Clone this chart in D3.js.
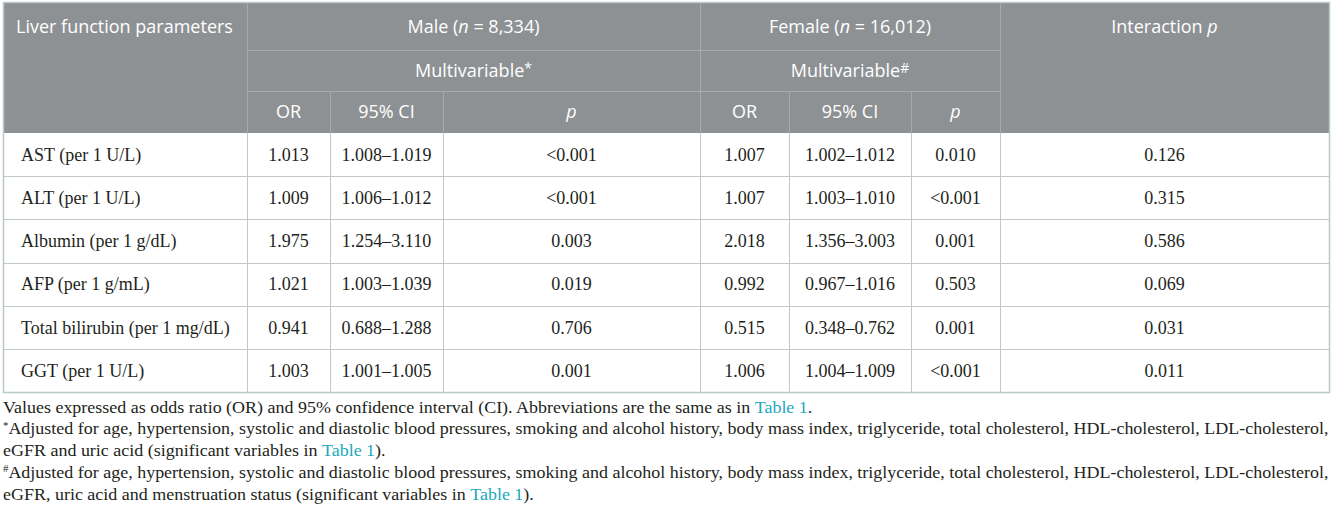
<!DOCTYPE html>
<html>
<head>
<meta charset="utf-8">
<script src="https://cdn.jsdelivr.net/npm/d3@7"></script>
<style>
  body { margin: 0; background: #fff; }
  svg { display: block; }
</style>
</head>
<body>
<svg id="table" width="1333" height="521"></svg>
<script>
// table contents
const params = ["AST (per 1 U/L)", "ALT (per 1 U/L)", "Albumin (per 1 g/dL)", "AFP (per 1 g/mL)", "Total bilirubin (per 1 mg/dL)", "GGT (per 1 U/L)"];
const maleOR = ["1.013", "1.009", "1.975", "1.021", "0.941", "1.003"];
const maleCI = ["1.008–1.019", "1.006–1.012", "1.254–3.110", "1.003–1.039", "0.688–1.288", "1.001–1.005"];
const maleP = ["<0.001", "<0.001", "0.003", "0.019", "0.706", "0.001"];
const femaleOR = ["1.007", "1.007", "2.018", "0.992", "0.515", "1.006"];
const femaleCI = ["1.002–1.012", "1.003–1.010", "1.356–3.003", "0.967–1.016", "0.348–0.762", "1.004–1.009"];
const femaleP = ["0.010", "<0.001", "0.001", "0.503", "0.001", "<0.001"];
const interactionP = ["0.126", "0.315", "0.586", "0.069", "0.031", "0.011"];

// layout
const colEdges = [4, 247, 330, 443, 700, 789, 911, 1000, 1329];
const headRows = [3, 50, 91, 133];
const tableBottom = 392;

const headFill = "#8e9194";
const headLine = "#a7a9ac";
const bodyLine = "#c4c6c8";
const frame = "#b9c9c3";
const sans = "'Open Sans', sans-serif";
const serif = "'Liberation Serif', 'Times New Roman', serif";

const svg = d3.select("#table");

const y = d3.scaleBand()
  .domain(params)
  .range([headRows[3], tableBottom]);

const columns = [maleOR, maleCI, maleP, femaleOR, femaleCI, femaleP, interactionP];
const rows = params.map((p, i) => [p].concat(columns.map(c => c[i])));

// header background
svg.append("rect")
  .attr("x", colEdges[0])
  .attr("y", headRows[0])
  .attr("width", colEdges[8] - colEdges[0])
  .attr("height", headRows[3] - headRows[0])
  .attr("fill", headFill);

const hl = svg.append("g").attr("stroke", headLine).attr("stroke-width", 1);
// vertical lines in header
[[1, 0], [4, 0], [7, 0], [2, 2], [3, 2], [5, 2], [6, 2]].forEach(([c, r]) => {
  hl.append("line")
    .attr("x1", colEdges[c] + 0.5).attr("x2", colEdges[c] + 0.5)
    .attr("y1", headRows[r]).attr("y2", headRows[3]);
});
// horizontal lines in header (group columns only)
[1, 2].forEach(r => {
  hl.append("line")
    .attr("x1", colEdges[1]).attr("x2", colEdges[7])
    .attr("y1", headRows[r] + 0.5).attr("y2", headRows[r] + 0.5);
});

// header text
const ht = svg.append("g")
  .attr("fill", "#fff")
  .style("font-family", sans)
  .style("font-size", "18px");

function mid(a, b) { return (colEdges[a] + colEdges[b]) / 2; }
function rowMid(r) { return (headRows[r] + headRows[r + 1]) / 2; }

ht.append("text")
  .attr("x", 16).attr("y", rowMid(0)).attr("dy", "0.35em")
  .text("Liver function parameters");

[["Male (", "n", " = 8,334)", 1, 4], ["Female (", "n", " = 16,012)", 4, 7]].forEach(([a, n, b, c0, c1]) => {
  const t = ht.append("text")
    .attr("x", mid(c0, c1)).attr("y", rowMid(0)).attr("dy", "0.35em")
    .attr("text-anchor", "middle");
  t.append("tspan").text(a);
  t.append("tspan").style("font-style", "italic").text(n);
  t.append("tspan").text(b);
});

const inter = ht.append("text")
  .attr("x", mid(7, 8)).attr("y", rowMid(0)).attr("dy", "0.35em")
  .attr("text-anchor", "middle");
inter.append("tspan").text("Interaction ");
inter.append("tspan").style("font-style", "italic").text("p");

[["*", 1, 4], ["#", 4, 7]].forEach(([mark, c0, c1]) => {
  const t = ht.append("text")
    .attr("x", mid(c0, c1)).attr("y", rowMid(1)).attr("dy", "0.35em")
    .attr("text-anchor", "middle");
  t.append("tspan").text("Multivariable");
  t.append("tspan").attr("dy", "-0.3em").style("font-size", "14px").text(mark);
});

["OR", "95% CI", "p", "OR", "95% CI", "p"].forEach((s, i) => {
  ht.append("text")
    .attr("x", mid(i + 1, i + 2)).attr("y", rowMid(2)).attr("dy", "0.35em")
    .attr("text-anchor", "middle")
    .style("font-style", s === "p" ? "italic" : "normal")
    .text(s);
});

// body lines
const bl = svg.append("g").attr("stroke", bodyLine).attr("stroke-width", 1);
params.slice(1).forEach(p => {
  bl.append("line")
    .attr("x1", colEdges[0]).attr("x2", colEdges[8])
    .attr("y1", Math.round(y(p)) + 0.5).attr("y2", Math.round(y(p)) + 0.5);
});
colEdges.slice(1, 8).forEach(x => {
  bl.append("line")
    .attr("x1", x + 0.5).attr("x2", x + 0.5)
    .attr("y1", headRows[3]).attr("y2", tableBottom);
});

// frame
svg.append("rect")
  .attr("x", colEdges[0] - 0.5)
  .attr("y", headRows[0] - 0.5)
  .attr("width", colEdges[8] - colEdges[0] + 1)
  .attr("height", tableBottom - headRows[0] + 1)
  .attr("fill", "none")
  .attr("stroke", frame)
  .attr("stroke-width", 1.5);

// body text
const body = svg.append("g")
  .style("font-family", serif)
  .style("font-size", "18px")
  .attr("fill", "#231f20");

body.selectAll("g.row")
  .data(rows)
  .enter()
  .append("g")
  .attr("class", "row")
  .attr("transform", d => "translate(0," + (y(d[0]) + y.bandwidth() / 2) + ")")
  .selectAll("text")
  .data(d => d)
  .enter()
  .append("text")
  .attr("x", (d, i) => i === 0 ? 21 : mid(i, i + 1))
  .attr("dy", "0.35em")
  .attr("text-anchor", (d, i) => i === 0 ? "start" : "middle")
  .text(d => d);

// footnotes
const link = "#1aa9bc";
const notes = [
  [{ t: "Values expressed as odds ratio (OR) and 95% confidence interval (CI). Abbreviations are the same as in " }, { t: "Table 1", c: link }, { t: "." }],
  [{ t: "*", sup: true }, { t: "Adjusted for age, hypertension, systolic and diastolic blood pressures, smoking and alcohol history, body mass index, triglyceride, total cholesterol, HDL-cholesterol, LDL-cholesterol," }],
  [{ t: "eGFR and uric acid (significant variables in " }, { t: "Table 1", c: link }, { t: ")." }],
  [{ t: "#", sup: true }, { t: "Adjusted for age, hypertension, systolic and diastolic blood pressures, smoking and alcohol history, body mass index, triglyceride, total cholesterol, HDL-cholesterol, LDL-cholesterol," }],
  [{ t: "eGFR, uric acid and menstruation status (significant variables in " }, { t: "Table 1", c: link }, { t: ")." }]
];
const noteY = [407, 428.5, 450, 472, 494];

const fn = svg.append("g")
  .style("font-family", serif)
  .style("font-size", "16.5px")
  .attr("fill", "#231f20");

const noteNodes = notes.map((parts, i) => {
  // baseline given directly, so the superscript shifts stay relative to it
  const t = fn.append("text")
    .attr("x", 3).attr("y", noteY[i] + 6);
  parts.forEach(p => {
    const s = t.append("tspan").text(p.t);
    if (p.c) s.attr("fill", p.c);
    if (p.sup) s.style("font-size", "0.6em").attr("dy", "-0.6em");
    else if (parts[0].sup && p !== parts[0]) s.attr("dy", "0.36em");
  });
  return t;
});

// stretch the footnotes sideways so the long lines span the table width
const sx = (colEdges[8] - 3) / noteNodes[1].node().getComputedTextLength();
fn.attr("transform", "scale(" + sx + ",1)");
noteNodes.forEach(t => t.attr("x", 3 / sx));
</script>
</body>
</html>
